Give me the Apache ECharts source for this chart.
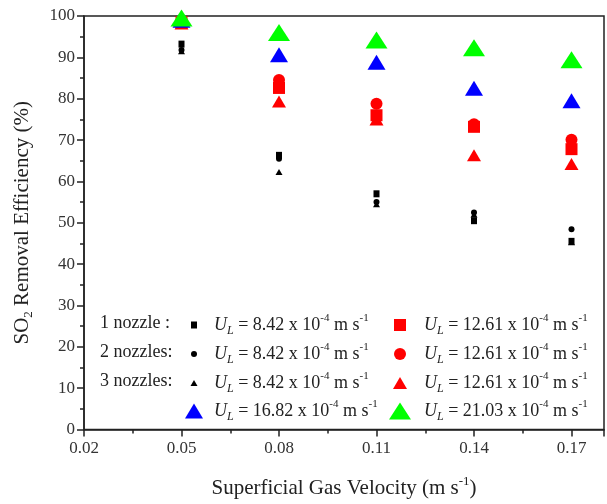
<!DOCTYPE html>
<html>
<head>
<meta charset="utf-8">
<script src="https://cdn.jsdelivr.net/npm/echarts@6/dist/echarts.min.js"></script>
<style>
html,body{margin:0;padding:0;background:#fff;}
#main{width:607px;height:504px;}
</style>
</head>
<body>
<div id="main"></div>
<script>
// gas velocity (m s-1)
var velocity = [0.05, 0.08, 0.11, 0.14, 0.17];
// removal efficiency (%)
var oneNozzle842 = [93.2, 66.3, 57.0, 50.5, 45.5];
var twoNozzle842 = [91.8, 65.5, 55.0, 52.5, 48.4];
var threeNozzle842 = [91.5, 62.3, 54.5, 52.0, 45.3];
var oneNozzle1261 = [98.5, 82.6, 76.0, 73.2, 67.8];
var twoNozzle1261 = [98.8, 84.5, 78.8, 73.8, 70.1];
var threeNozzle1261 = [98.2, 79.3, 75.0, 66.3, 64.2];
var flow1682 = [99.0, 90.6, 88.8, 82.5, 79.5];
var flow2103 = [99.5, 96.0, 94.2, 92.3, 89.4];
var xTicks = [0.02, 0.05, 0.08, 0.11, 0.14, 0.17];
var yTicks = [0, 10, 20, 30, 40, 50, 60, 70, 80, 90, 100];

var serif = 'Liberation Serif';

function pairs(ys){
    var out = [];
    for(var i=0;i<velocity.length;i++){
        out.push([velocity[i], ys[i]]);
    }
    return out;
}

// rich text styles for U_L labels
function makeRich(sp){
    return {
        u: {fontFamily: serif, fontSize: 18, fontStyle: 'italic', color: '#222', lineHeight: 24},
        l: {fontFamily: serif, fontSize: 12, fontStyle: 'italic', color: '#222', verticalAlign: 'bottom', lineHeight: 12},
        t: {fontFamily: serif, fontSize: 18, color: '#222', lineHeight: 24},
        s: {fontFamily: serif, fontSize: 11, color: '#222', verticalAlign: 'top', lineHeight: 12},
        sp: {width: sp}
    };
}
function ulText(v){
    return '{sp|}{u|U}{l|L}{t| = ' + v + ' x 10}{s|-4}{t| m s}{s|-1}';
}

var seriesDefs = [
    {name: '1n842', data: oneNozzle842, symbol: 'rect', size: [6, 7], color: '#000', label: '8.42'},
    {name: '2n842', data: twoNozzle842, symbol: 'circle', size: 6, color: '#000', label: '8.42'},
    {name: '3n842', data: threeNozzle842, symbol: 'triangle', size: [7, 6], color: '#000', label: '8.42'},
    {name: '1n1261', data: oneNozzle1261, symbol: 'rect', size: [12, 12], color: '#ff0000', label: '12.61'},
    {name: '2n1261', data: twoNozzle1261, symbol: 'circle', size: 12, color: '#ff0000', label: '12.61'},
    {name: '3n1261', data: threeNozzle1261, symbol: 'triangle', size: [14, 12], color: '#ff0000', label: '12.61'},
    {name: '1682', data: flow1682, symbol: 'triangle', size: [18, 15], color: '#0000ff', label: '16.82'},
    {name: '2103', data: flow2103, symbol: 'triangle', size: [22, 17], color: '#00ff00', label: '21.03'}
];

var series = seriesDefs.map(function(d){
    return {
        name: d.name,
        type: 'scatter',
        data: pairs(d.data),
        symbol: d.symbol,
        symbolSize: d.size,
        itemStyle: {color: d.color, opacity: 1},
        emphasis: {disabled: true}
    };
});

// legend layout: [seriesIndex, iconCenterX, rowY, textStartX]
var legendPos = [
    [0, 194, 325, 214], [3, 400, 325, 424],
    [1, 194, 354, 214], [4, 400, 354, 424],
    [2, 194, 383, 214], [5, 400, 383, 424],
    [6, 194, 411, 214], [7, 400, 411, 424]
];
var legends = legendPos.map(function(p){
    var d = seriesDefs[p[0]];
    var w = Array.isArray(d.size) ? d.size[0] : d.size;
    var h = Array.isArray(d.size) ? d.size[1] : d.size;
    var sp = p[3] - (p[1] + w/2 + 5);
    return {
        left: p[1] - w/2,
        top: p[2] - 12,
        padding: 0,
        itemWidth: w,
        itemHeight: h,
        itemGap: 0,
        selectedMode: false,
        data: [{name: d.name, icon: d.symbol}],
        formatter: function(){ return ulText(d.label); },
        textStyle: {rich: makeRich(sp)}
    };
});

var rowLabels = ['1 nozzle :', '2 nozzles:', '3 nozzles:'];
var graphics = rowLabels.map(function(t, i){
    return {
        type: 'text',
        left: 100,
        top: legendPos[i*2][2] - 11,
        style: {text: t, font: '18px "Liberation Serif"', fill: '#222'}
    };
});

var chart = echarts.init(document.getElementById('main'));
chart.setOption({
    animation: false,
    backgroundColor: '#fff',
    grid: {left: 84, right: 2, top: 16, bottom: 71, show: true, borderColor: '#222', borderWidth: 1.5},
    xAxis: {
        type: 'value',
        min: 0.02,
        max: 0.18,
        interval: 0.03,
        name: '{t|Superficial Gas Velocity (m s}{s|-1}{t|)}',
        nameLocation: 'middle',
        nameGap: 46,
        nameTextStyle: {rich: {
            t: {fontFamily: serif, fontSize: 21, color: '#222', lineHeight: 26},
            s: {fontFamily: serif, fontSize: 13, color: '#222', verticalAlign: 'top', lineHeight: 13}
        }},
        axisLine: {show: true, lineStyle: {color: '#222', width: 1.5}},
        axisTick: {show: true, inside: false, length: 7, lineStyle: {color: '#222', width: 1.5}},
        minorTick: {show: true, splitNumber: 2, length: 4, lineStyle: {color: '#222', width: 1.5}},
        splitLine: {show: false},
        axisLabel: {
            fontFamily: serif, fontSize: 17, color: '#333', margin: 11,
            formatter: function(v){
                for(var i=0;i<xTicks.length;i++){
                    if(Math.abs(v - xTicks[i]) < 1e-6) return xTicks[i].toFixed(2);
                }
                return '';
            }
        }
    },
    yAxis: {
        type: 'value',
        min: 0,
        max: 100,
        interval: 10,
        name: '{t|SO}{b|2}{t| Removal Efficiency (%)}',
        nameLocation: 'middle',
        nameGap: 49,
        nameRotate: 90,
        nameTextStyle: {rich: {
            t: {fontFamily: serif, fontSize: 21, color: '#222', lineHeight: 26},
            b: {fontFamily: serif, fontSize: 13, color: '#222', verticalAlign: 'bottom', lineHeight: 13}
        }},
        axisLine: {show: true, lineStyle: {color: '#222', width: 1.5}},
        axisTick: {show: true, inside: false, length: 7, lineStyle: {color: '#222', width: 1.5}},
        minorTick: {show: true, splitNumber: 2, length: 4, lineStyle: {color: '#222', width: 1.5}},
        splitLine: {show: false},
        axisLabel: {
            fontFamily: serif, fontSize: 17, color: '#333', margin: 9,
            formatter: function(v){ return yTicks.indexOf(v) >= 0 ? String(v) : ''; }
        }
    },
    legend: legends,
    graphic: graphics,
    series: series
});
</script>
</body>
</html>
